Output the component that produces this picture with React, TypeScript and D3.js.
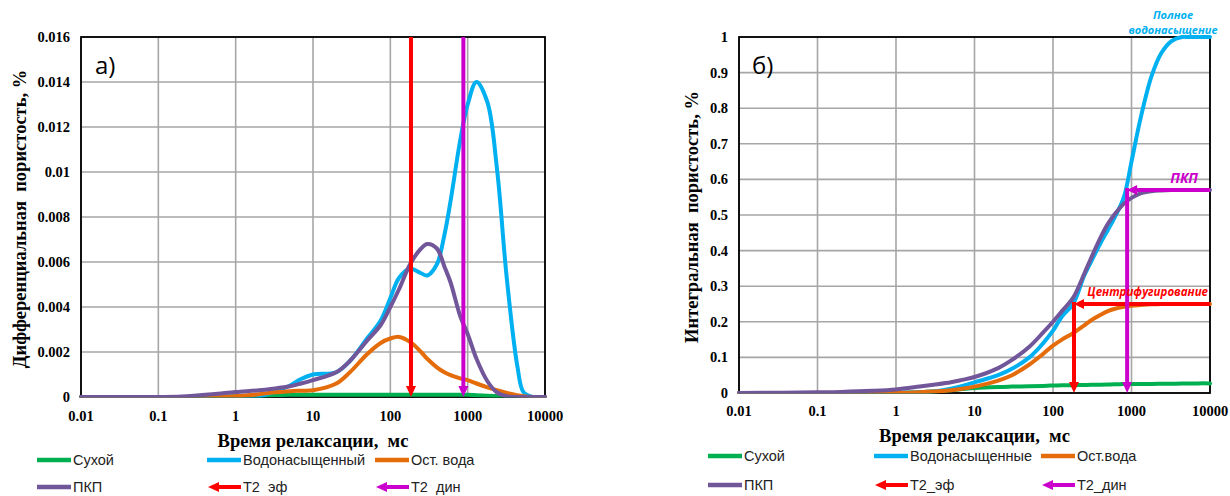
import React from 'react';
import * as d3 from 'd3';

// Relaxation time grid, ms
const T = [0.01, 0.1, 0.2, 0.5, 1, 2, 3, 5, 7, 10, 20, 30, 50, 75, 100, 130, 180, 250, 300, 400, 500, 600, 800, 1000, 1300, 1800, 2400, 3200, 4400, 5300, 7000, 10000];

// Differential porosity (chart a)
const diffDry = [0, 0, 0, 0.00001, 0.00003, 0.00006, 0.00008, 0.0001, 0.0001, 0.0001, 0.0001, 0.0001, 0.0001, 0.0001, 0.0001, 0.0001, 0.0001, 0.0001, 0.0001, 0.0001, 0.0001, 0.0001, 0.0001, 0.0001, 0.00008, 0.00006, 0.00004, 0.00002, 0, 0, 0, 0];
const diffSat = [0, 0, 0, 0, 0, 0.00003, 0.0002, 0.0005, 0.0008, 0.001, 0.0011, 0.0016, 0.0026, 0.0034, 0.0044, 0.0053, 0.0057, 0.0055, 0.0054, 0.0059, 0.0072, 0.0087, 0.0114, 0.013, 0.014, 0.0131, 0.0101, 0.0053, 0.00135, 0.0002, 0, 0];
const diffRes = [0, 0, 0, 0, 0.00003, 0.00012, 0.0002, 0.00026, 0.00028, 0.0003, 0.0006, 0.0011, 0.0019, 0.0024, 0.0026, 0.00267, 0.00245, 0.002, 0.0017, 0.00132, 0.0011, 0.00097, 0.00083, 0.00075, 0.0006, 0.00043, 0.0003, 0.00018, 0.00008, 0.00003, 0, 0];
const diffPkp = [0, 0, 0.00002, 0.00012, 0.00022, 0.0003, 0.00037, 0.00048, 0.0006, 0.00075, 0.0011, 0.0016, 0.0025, 0.0032, 0.004, 0.0048, 0.0059, 0.0066, 0.0068, 0.0066, 0.0058, 0.0051, 0.0036, 0.0028, 0.0017, 0.0007, 0.0002, 0.00003, 0, 0, 0, 0];

// Integral porosity (chart б)
const cumDry = [0, 0, 0, 0, 0, 0.002, 0.004, 0.008, 0.011, 0.014, 0.017, 0.018, 0.019, 0.02, 0.021, 0.0215, 0.022, 0.0225, 0.023, 0.0235, 0.024, 0.0245, 0.025, 0.025, 0.0255, 0.0255, 0.026, 0.026, 0.0265, 0.0265, 0.027, 0.027];
const cumSat = [0, 0, 0, 0, 0.001, 0.002, 0.004, 0.012, 0.02, 0.03, 0.05, 0.068, 0.1, 0.14, 0.175, 0.215, 0.25, 0.33, 0.365, 0.42, 0.458, 0.49, 0.55, 0.65, 0.77, 0.89, 0.955, 0.988, 1, 1, 1, 1];
const cumRes = [0, 0, 0, 0, 0, 0.002, 0.004, 0.008, 0.012, 0.018, 0.035, 0.05, 0.08, 0.11, 0.133, 0.15, 0.168, 0.19, 0.203, 0.219, 0.23, 0.236, 0.242, 0.245, 0.247, 0.249, 0.25, 0.25, 0.25, 0.25, 0.25, 0.25];
const cumPkp = [0, 0.002, 0.003, 0.006, 0.01, 0.018, 0.023, 0.03, 0.037, 0.045, 0.07, 0.093, 0.13, 0.17, 0.2, 0.23, 0.267, 0.335, 0.375, 0.435, 0.475, 0.5, 0.532, 0.548, 0.561, 0.567, 0.569, 0.57, 0.57, 0.57, 0.57, 0.57];

// Markers
const T2_EF = 185;
const T2_DIN = 880;
const LEVEL_CENTRIF = 0.25;
const LEVEL_PKP = 0.57;

// Ticks
const xTicks = [0.01, 0.1, 1, 10, 100, 1000, 10000];
const xTickLabels = ['0.01', '0.1', '1', '10', '100', '1000', '10000'];
const yTicksA = [0, 0.002, 0.004, 0.006, 0.008, 0.01, 0.012, 0.014, 0.016];
const yTickLabelsA = ['0', '0.002', '0.004', '0.006', '0.008', '0.01', '0.012', '0.014', '0.016'];
const yTicksB = [0, 0.1, 0.2, 0.3, 0.4, 0.5, 0.6, 0.7, 0.8, 0.9, 1];
const yTickLabelsB = ['0', '0.1', '0.2', '0.3', '0.4', '0.5', '0.6', '0.7', '0.8', '0.9', '1'];

const legendA = ['Сухой', 'Водонасыщенный', 'Ост. вода', 'ПКП', 'Т2  эф', 'Т2  дин'];
const legendB = ['Сухой', 'Водонасыщенные', 'Ост.вода', 'ПКП', 'Т2_эф', 'Т2_дин'];

const C_DRY = '#00B050';
const C_SAT = '#00B0F0';
const C_RES = '#E46C0A';
const C_PKP = '#72569A';
const C_RED = '#FF0000';
const C_MAG = '#CC00CC';

const SERIF = '"Liberation Serif", "Times New Roman", serif';
const SANS = '"Liberation Sans", Arial, sans-serif';
const CAL = '"Open Sans", "Liberation Sans", sans-serif';

function Arrow({ x1, y1, x2, y2, color, w = 4, head = 10, hw = 5.5 }: any) {
  const dx = x2 - x1, dy = y2 - y1;
  const len = Math.sqrt(dx * dx + dy * dy) || 1;
  const ux = dx / len, uy = dy / len;
  const bx = x2 - ux * head, by = y2 - uy * head;
  const px = -uy, py = ux;
  const pts = `${x2},${y2} ${bx + px * hw},${by + py * hw} ${bx - px * hw},${by - py * hw}`;
  return (
    <g>
      <line x1={x1} y1={y1} x2={bx + ux * 1} y2={by + uy * 1} stroke={color} strokeWidth={w} />
      <polygon points={pts} fill={color} />
    </g>
  );
}

function Panel(props: any) {
  const { id, x0, x1, y0, y1, yMax, yTicks, yLabels, series, yTitle, xTitle, yTitleX, xTitleY, tickRight, xTickY, tag, tagX, children } = props;
  const x = d3.scaleLog().domain([0.01, 10000]).range([x0, x1]);
  const y = d3.scaleLinear().domain([0, yMax]).range([y1, y0]);
  const line = d3.line<number>().x((_, i) => x(T[i])).y((d) => y(d)).curve(d3.curveCatmullRom.alpha(0.5));
  return (
    <g>
      <defs>
        <clipPath id={id}>
          <rect x={x0 - 2} y={y0 - 2} width={x1 - x0 + 4} height={y1 - y0 + 2.5} />
        </clipPath>
      </defs>
      {yTicks.map((t: number, i: number) => (
        <line key={'gy' + i} x1={x0} x2={x1} y1={y(t)} y2={y(t)} stroke="#A6A6A6" strokeWidth={1.6} />
      ))}
      {xTicks.map((t, i) => (
        <line key={'gx' + i} x1={x(t)} x2={x(t)} y1={y0} y2={y1} stroke="#A6A6A6" strokeWidth={1.6} />
      ))}
      <rect x={x0} y={y0} width={x1 - x0} height={y1 - y0} fill="none" stroke="#000" strokeWidth={1.8} />
      <g clipPath={`url(#${id})`}>
        {series.map((s: any, i: number) => (
          <path key={'s' + i} d={line(s.values) || ''} fill="none" stroke={s.color} strokeWidth={4} strokeLinejoin="round" strokeLinecap="round" />
        ))}
      </g>
      {children && children(x, y)}
      {yTicks.map((t: number, i: number) => (
        <text key={'ty' + i} x={tickRight} y={y(t)} dy="0.35em" textAnchor="end" fontFamily={SERIF} fontWeight="bold" fontSize={14.5}>{yLabels[i]}</text>
      ))}
      {xTicks.map((t, i) => (
        <text key={'tx' + i} x={x(t)} y={xTickY} dy="0.35em" textAnchor="middle" fontFamily={SERIF} fontWeight="bold" fontSize={14.5}>{xTickLabels[i]}</text>
      ))}
      <text x={(x0 + x1) / 2} y={xTitleY} dy="0.35em" textAnchor="middle" fontFamily={SERIF} fontWeight="bold" fontSize={18.5} style={{ whiteSpace: 'pre' }}>{xTitle}</text>
      <text transform={`translate(${yTitleX},${(y0 + y1) / 2 + 2}) rotate(-90)`} dy="0.35em" textAnchor="middle" fontFamily={SERIF} fontWeight="bold" fontSize={18.5} style={{ whiteSpace: 'pre' }}>{yTitle}</text>
      <text x={tagX} y={y0 + 29} dy="0.35em" fontFamily={CAL} fontSize={24}>{tag}</text>
    </g>
  );
}

function Legend({ cols, rowY, labels }: any) {
  const colors = [C_DRY, C_SAT, C_RES, C_PKP];
  const items = labels.map((lab: string, i: number) => {
    const col = i % 3;
    const row = Math.floor(i / 3);
    const lx = cols[col];
    const ly = rowY[row];
    let mark;
    if (i < 4) {
      mark = <line x1={lx} x2={lx + 34} y1={ly} y2={ly} stroke={colors[i]} strokeWidth={4.5} />;
    } else {
      mark = <Arrow x1={lx + 34} y1={ly} x2={lx + 1} y2={ly} color={i === 4 ? C_RED : C_MAG} w={4} head={11} hw={5} />;
    }
    return (
      <g key={i}>
        {mark}
        <text x={lx + 36} y={ly} dy="0.36em" fontFamily={SANS} fontSize={14.5} fill="#222" style={{ whiteSpace: 'pre' }}>{lab}</text>
      </g>
    );
  });
  return <g>{items}</g>;
}

export default function App() {
  return (
    <svg width={1230} height={496} style={{ position: 'absolute', left: 0, top: 0, background: '#fff' }} xmlns="http://www.w3.org/2000/svg">
      <rect width={1230} height={496} fill="#fff" />
      <Panel
        id="clipA"
        x0={81} x1={545} y0={37} y1={397} yMax={0.016}
        yTicks={yTicksA} yLabels={yTickLabelsA}
        series={[
          { values: diffDry, color: C_DRY },
          { values: diffSat, color: C_SAT },
          { values: diffRes, color: C_RES },
          { values: diffPkp, color: C_PKP },
        ]}
        yTitle={'Дифференциальная  пористость, %'} xTitle={'Время релаксации,  мс'}
        yTitleX={20} xTitleY={441} tickRight={70} xTickY={416} tag="а)" tagX={95}
      >
        {(x: any, y: any) => (
          <g>
            <Arrow x1={x(T2_EF)} y1={37} x2={x(T2_EF)} y2={y(0)} color={C_RED} w={4} head={11} hw={5} />
            <Arrow x1={x(T2_DIN)} y1={37} x2={x(T2_DIN)} y2={y(0)} color={C_MAG} w={4} head={11} hw={5} />
          </g>
        )}
      </Panel>
      <Panel
        id="clipB"
        x0={739} x1={1210} y0={37} y1={393} yMax={1}
        yTicks={yTicksB} yLabels={yTickLabelsB}
        series={[
          { values: cumDry, color: C_DRY },
          { values: cumSat, color: C_SAT },
          { values: cumRes, color: C_RES },
          { values: cumPkp, color: C_PKP },
        ]}
        yTitle={'Интегральная  пористость, %'} xTitle={'Время релаксации,  мс'}
        yTitleX={692} xTitleY={436} tickRight={728} xTickY={411} tag="б)" tagX={752}
      >
        {(x: any, y: any) => (
          <g>
            <Arrow x1={1210} y1={y(LEVEL_CENTRIF)} x2={x(T2_EF)} y2={y(LEVEL_CENTRIF)} color={C_RED} w={4} head={10} hw={5} />
            <Arrow x1={x(T2_EF)} y1={y(LEVEL_CENTRIF) - 2} x2={x(T2_EF)} y2={y(0)} color={C_RED} w={4} head={11} hw={5} />
            <Arrow x1={1210} y1={y(LEVEL_PKP)} x2={x(T2_DIN)} y2={y(LEVEL_PKP)} color={C_MAG} w={4} head={10} hw={5} />
            <Arrow x1={x(T2_DIN)} y1={y(LEVEL_PKP) - 2} x2={x(T2_DIN)} y2={y(0)} color={C_MAG} w={4} head={11} hw={5} />
            <text x={1208} y={y(LEVEL_CENTRIF) - 8} textAnchor="end" fontFamily={CAL} fontStyle="italic" fontWeight="bold" fontSize={11.5} fill={C_RED}>Центрифугирование</text>
            <text x={1198} y={y(LEVEL_PKP) - 7} textAnchor="end" fontFamily={CAL} fontStyle="italic" fontWeight="bold" fontSize={14} fill={C_MAG}>ПКП</text>
            <text x={1173} y={19} textAnchor="middle" fontFamily={CAL} fontStyle="italic" fontWeight="bold" fontSize={11} fill={C_SAT}>Полное</text>
            <text x={1173} y={34} textAnchor="middle" fontFamily={CAL} fontStyle="italic" fontWeight="bold" fontSize={11} fill={C_SAT}>водонасыщение</text>
          </g>
        )}
      </Panel>
      <Legend cols={[37, 207, 375]} rowY={[460, 487]} labels={legendA} />
      <Legend cols={[708, 874, 1041]} rowY={[456, 485]} labels={legendB} />
    </svg>
  );
}
